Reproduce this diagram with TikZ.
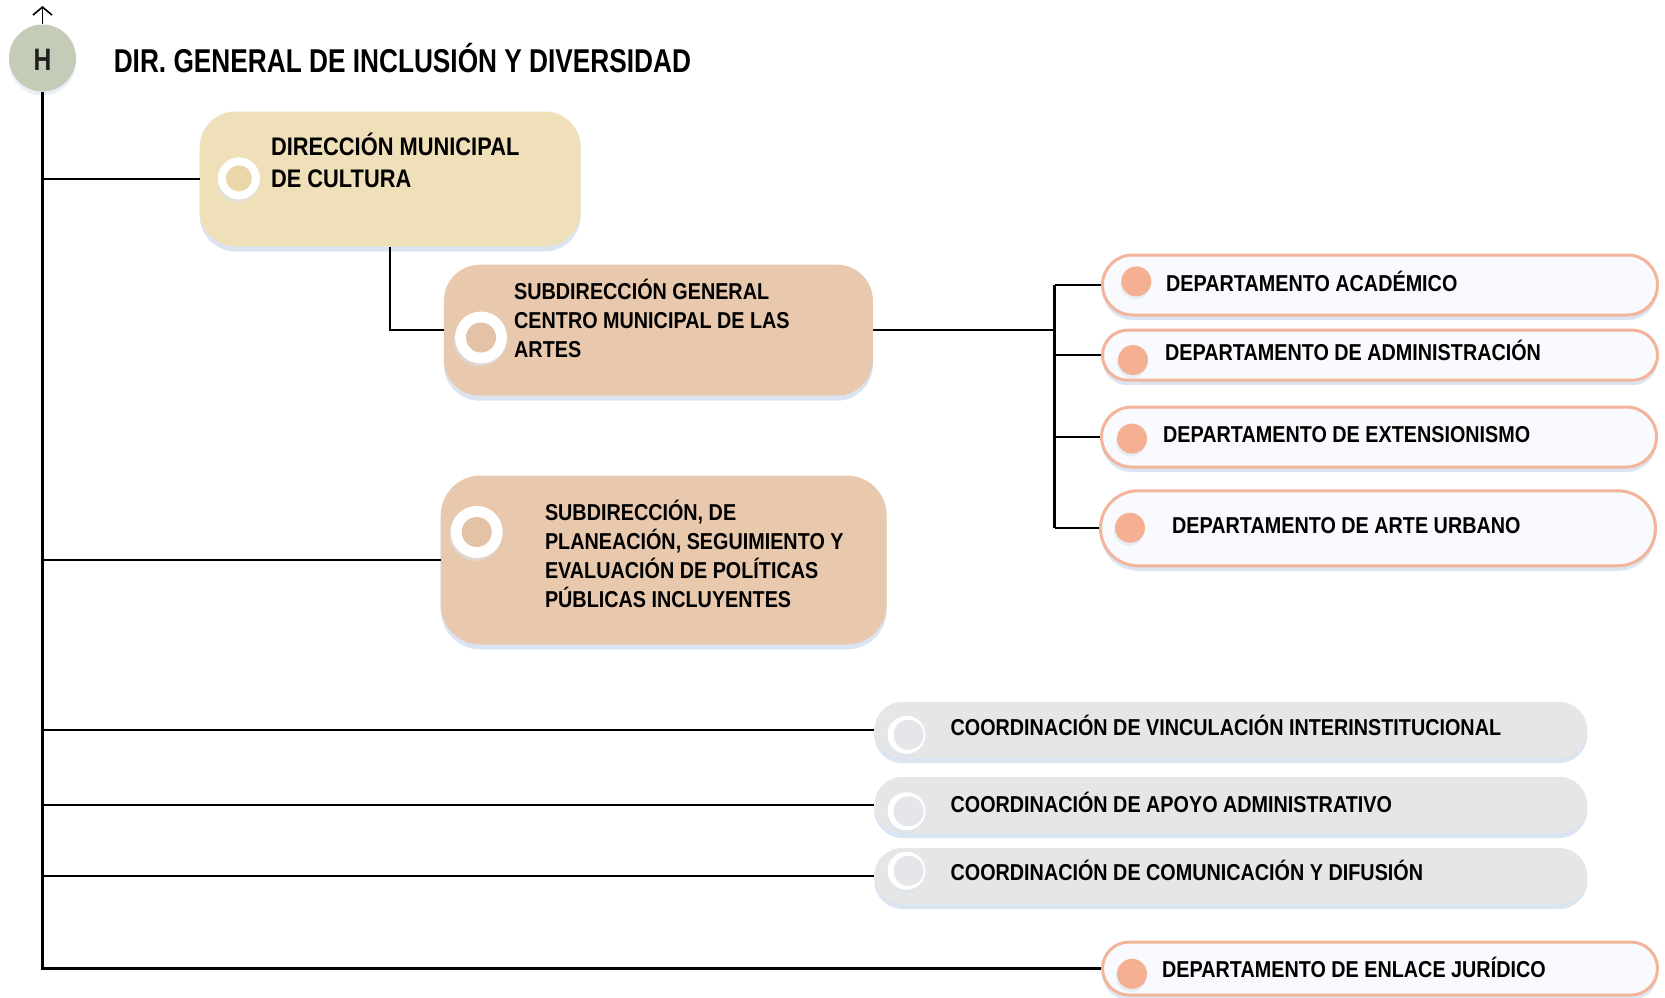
\documentclass[tikz,border=0pt]{standalone}
\usepackage{fontspec}
\newfontfamily\nar{Liberation Sans}[FakeStretch=0.86]
\newfontfamily\nart{Liberation Sans}[FakeStretch=0.795]
\usetikzlibrary{shadows,shapes.misc,arrows.meta}
\definecolor{hgray}{HTML}{C4CBB6}
\definecolor{cream}{HTML}{EFE0B9}
\definecolor{creamin}{HTML}{E9D7AA}
\definecolor{tanbox}{HTML}{E8C9AE}
\definecolor{tanin}{HTML}{E3C2A5}
\definecolor{deptfill}{HTML}{F8FAFD}
\definecolor{salmon}{HTML}{F3B49A}
\definecolor{dotc}{HTML}{F5B094}
\definecolor{coordfill}{HTML}{E6E6E6}
\definecolor{coordin}{HTML}{E4E6EA}
\definecolor{shblue}{HTML}{D8E3F1}
\tikzset{
  conn/.style={line width=2.1pt, draw=black},
  shad/.style={drop shadow={shadow xshift=0pt, shadow yshift=-5pt, fill=shblue, opacity=0.9}},
  bigbox/.style={shape=rectangle, rounded corners=36pt, inner sep=0pt, shad},
  deptbox/.style={shape=rounded rectangle, draw=salmon, line width=3pt, fill=deptfill, inner sep=0pt, minimum width=555pt, shad},
  coordbox/.style={shape=rounded rectangle, fill=coordfill, inner sep=0pt, minimum width=713pt, minimum height=56pt, shad},
  ring/.style={circle, fill=white, inner sep=0pt, drop shadow={shadow xshift=-1pt, shadow yshift=-3pt, fill=shblue}},
  disc/.style={circle, inner sep=0pt, draw=none},
  lbl/.style={font=\nar\bfseries\fontsize{23}{29}\selectfont, anchor=base west, inner sep=0pt, align=left},
}
\begin{document}
\begin{tikzpicture}[x=1pt, y=-1pt]
\useasboundingbox[fill=white] (0,0) rectangle (1665,997);

% head
\node[circle, fill=hgray, minimum size=67pt, inner sep=0pt, drop shadow={shadow xshift=0pt, shadow yshift=-4pt, fill=shblue}] (H) at (42.5,58) {};
\node[font=\nart\bfseries\fontsize{31}{34}\selectfont, text=black!88, inner sep=0pt, anchor=base] (Ht) at (42.5,70) {H};
\coordinate (top) at (42.5,6);
\node[font=\nart\bfseries\fontsize{33}{38}\selectfont, anchor=base west, inner sep=0pt] (title) at (113.6,72) {DIR. GENERAL DE INCLUSIÓN Y DIVERSIDAD};

% big boxes
\node[bigbox, fill=cream, minimum width=381pt, minimum height=135pt] (B1) at (390.2,179) {};
\node[bigbox, fill=tanbox, minimum width=429pt, minimum height=131pt] (B2) at (658.4,330.2) {};
\node[bigbox, fill=tanbox, minimum width=446pt, minimum height=169pt, rounded corners=40pt] (B3) at (663.7,560) {};

% rings in big boxes
\node[ring, minimum size=42pt] (r1) at (238.9,178.4) {};
\node[disc, fill=creamin, minimum size=26pt] (r1i) at (r1.center) {};
\node[ring, minimum size=52pt] (r2) at (481,337.5) {};
\node[disc, fill=tanin, minimum size=30pt] (r2i) at (r2.center) {};
\node[ring, minimum size=52pt] (r3) at (476.7,532) {};
\node[disc, fill=tanin, minimum size=30pt] (r3i) at (r3.center) {};

\node[lbl, font=\nar\bfseries\fontsize{25.4}{32}\selectfont] (t1) at (270.8,187.5) {DIRECCIÓN MUNICIPAL\\DE CULTURA};
\node[lbl] (t2) at (514,357) {SUBDIRECCIÓN GENERAL\\CENTRO MUNICIPAL DE LAS\\ARTES};
\node[lbl] (t3) at (544.8,607.4) {SUBDIRECCIÓN, DE\\PLANEACIÓN, SEGUIMIENTO Y\\EVALUACIÓN DE POLÍTICAS\\PÚBLICAS INCLUYENTES};

% departments
\node[deptbox, minimum height=60pt] (D1) at (1380,285) {};
\node[deptbox, minimum height=50pt] (D2) at (1380,355.2) {};
\node[deptbox, minimum height=60pt] (D3) at (1379,437) {};
\node[deptbox, minimum height=75pt] (D4) at (1378,528.3) {};
\node[deptbox, minimum height=53pt] (D5) at (1380,968.5) {};
\foreach \n/\x/\y in {d1/1136.3/281.4, d2/1133/360, d3/1132/438.6, d4/1130/527.8, d5/1132/973.8}
  \node[disc, fill=dotc, minimum size=30pt, drop shadow={shadow xshift=-1pt, shadow yshift=-3pt, fill=shblue}] (\n) at (\x,\y) {};
\node[lbl] (td1) at (1166,291) {DEPARTAMENTO ACADÉMICO};
\node[lbl] (td2) at (1165,360) {DEPARTAMENTO DE ADMINISTRACIÓN};
\node[lbl] (td3) at (1163,442) {DEPARTAMENTO DE EXTENSIONISMO};
\node[lbl] (td4) at (1172,533) {DEPARTAMENTO DE ARTE URBANO};
\node[lbl] (td5) at (1162,977) {DEPARTAMENTO DE ENLACE JURÍDICO};

% coordinations
\node[coordbox] (C1) at (1230.8,730) {};
\node[coordbox] (C2) at (1230.8,805) {};
\node[coordbox] (C3) at (1230.8,876) {};
\foreach \n/\y in {c1/734.8, c2/811.3, c3/870.8}{
  \node[ring, minimum size=38pt] (\n) at (906.5,\y) {};
  \node[disc, fill=coordin, minimum size=30pt] (\n i) at ([xshift=2pt]\n.center) {};
}
\node[lbl] (tc1) at (950.4,735) {COORDINACIÓN DE VINCULACIÓN INTERINSTITUCIONAL};
\node[lbl] (tc2) at (950.4,812.5) {COORDINACIÓN DE APOYO ADMINISTRATIVO};
\node[lbl] (tc3) at (950.4,880.4) {COORDINACIÓN DE COMUNICACIÓN Y DIFUSIÓN};

% connectors
\draw[line width=1.6pt, -{Straight Barb[length=8pt,width=19pt]}] (H.north) -- (top);
\draw[conn] (H.south) |- (D5.west);
\draw[conn] (H.south |- B1.west) -- (B1.west);
\draw[conn] (H.south |- B3.west) -- (B3.west);
\draw[conn] (H.south |- C1.west) -- (C1.west);
\draw[conn] (H.south |- C2.west) -- (C2.west);
\draw[conn] (H.south |- C3.west) -- (C3.west);
\draw[conn] (B1.south) |- (B2.west);
\coordinate (bus) at (1054.5,330.2);
\draw[conn] (B2.east) -- (bus);
\draw[conn] (bus |- D1.west) -- (bus |- D4.west);
\draw[conn] (bus |- D1.west) -- (D1.west);
\draw[conn] (bus |- D2.west) -- (D2.west);
\draw[conn] (bus |- D3.west) -- (D3.west);
\draw[conn] (bus |- D4.west) -- (D4.west);
\end{tikzpicture}
\end{document}
